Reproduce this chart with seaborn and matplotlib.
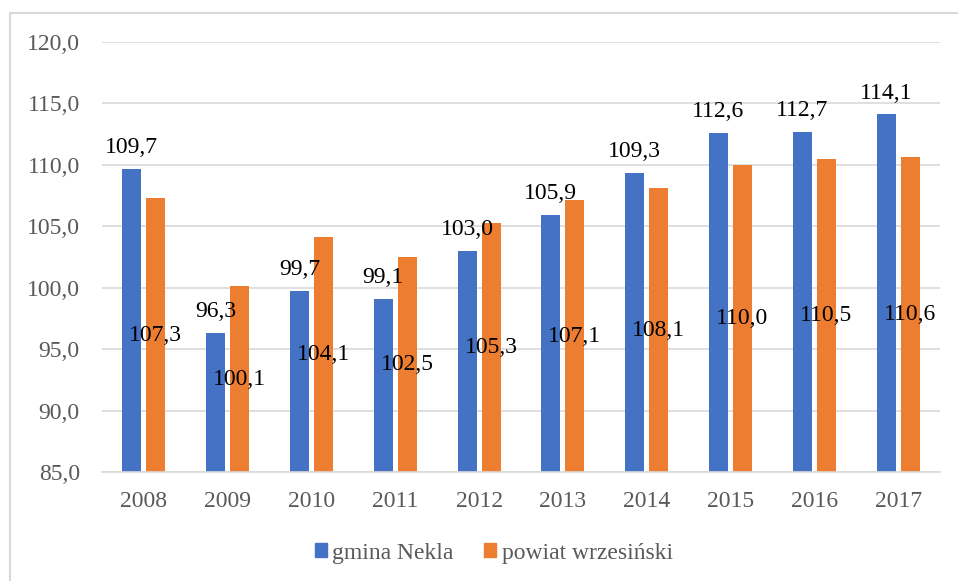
import matplotlib
matplotlib.use("Agg")
import matplotlib.pyplot as plt
import seaborn as sns
import pandas as pd
from matplotlib.patches import Rectangle

years = ["2008", "2009", "2010", "2011", "2012", "2013", "2014", "2015", "2016", "2017"]
gmina = [109.7, 96.3, 99.7, 99.1, 103.0, 105.9, 109.3, 112.6, 112.7, 114.1]
powiat = [107.3, 100.1, 104.1, 102.5, 105.3, 107.1, 108.1, 110.0, 110.5, 110.6]
series_names = ["gmina Nekla", "powiat wrzesiński"]
colors = ["#4472C4", "#ED7D31"]
y_ticks = [85, 90, 95, 100, 105, 110, 115, 120]

df = pd.DataFrame({
    "rok": years * 2,
    "wartosc": gmina + powiat,
    "seria": [series_names[0]] * len(years) + [series_names[1]] * len(years),
})

sns.set_theme(style="white")
plt.rcParams["font.family"] = ["Liberation Serif", "DejaVu Serif"]

FS = 17
fig = plt.figure(figsize=(9.58, 5.81), dpi=100)
ax = fig.add_axes([102 / 958, 1 - 472 / 581, (940 - 102) / 958, (472 - 42) / 581])

BASE = 85.0
sns.barplot(data=df, x="rok", y="wartosc", hue="seria", palette=colors,
            width=0.573, gap=0.21, ax=ax, legend=False, saturation=1,
            linewidth=0, edgecolor="none")

ax.set_ylim(BASE, 120)
ax.set_xlim(-0.5, 9.5)
ax.set_yticks(y_ticks)
ax.set_yticklabels([f"{v:.1f}".replace(".", ",") for v in y_ticks])
ax.yaxis.grid(True, color="#D9D9D9", linewidth=1.2)
ax.set_axisbelow(True)
for s in ["top", "right", "left"]:
    ax.spines[s].set_visible(False)
ax.spines["bottom"].set_color("#D9D9D9")
ax.spines["bottom"].set_linewidth(1.2)
ax.tick_params(axis="both", length=0, labelsize=FS, colors="#595959")
ax.tick_params(axis="x", pad=14)
ax.tick_params(axis="y", pad=16)
ax.set_xlabel("")
ax.set_ylabel("")

conts = ax.containers
# blue labels: outside end
for bar, v in zip(conts[0], gmina):
    ax.annotate(f"{v:.1f}".replace(".", ","),
                (bar.get_x() + bar.get_width() / 2, bar.get_height()),
                xytext=(0, 11.5), textcoords="offset points",
                ha="center", va="baseline", fontsize=FS, color="black")
# orange labels: centered in visible bar
for bar, v in zip(conts[1], powiat):
    ax.annotate(f"{v:.1f}".replace(".", ","),
                (bar.get_x() + bar.get_width() / 2, (v + BASE) / 2),
                ha="center", va="center", fontsize=FS, color="black")

handles = [Rectangle((0, 0), 1, 1, color=c) for c in colors]
fig.legend(handles, series_names, loc="center",
           bbox_to_anchor=(494 / 958, 1 - 553 / 581), ncol=2, frameon=False,
           fontsize=FS, labelcolor="#595959", handlelength=0.5,
           handleheight=0.5, handletextpad=0.25, columnspacing=1.3)

border = Rectangle((10 / 958, -0.1), 1.2, 1 - 13 / 581 + 0.1,
                   transform=fig.transFigure, fill=False,
                   edgecolor="#D9D9D9", linewidth=1.5)
fig.patches.append(border)

fig.savefig("out.png", dpi=100)
